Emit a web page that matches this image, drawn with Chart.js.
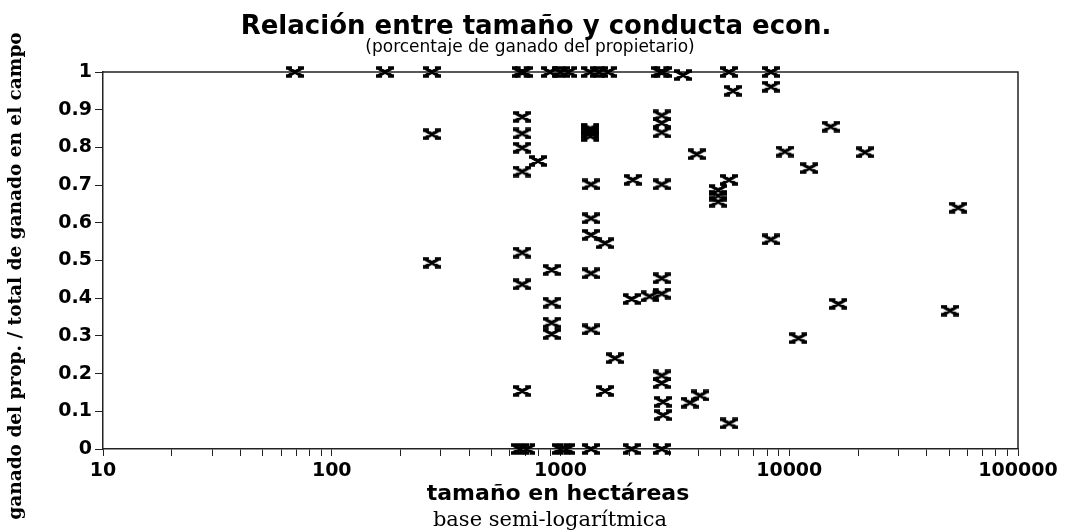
<!DOCTYPE html>
<html>
<head>
<meta charset="utf-8">
<script src="https://cdn.jsdelivr.net/npm/chart.js@4.4.1/dist/chart.umd.min.js"></script>
<style>
  html, body { margin: 0; padding: 0; background: #fff; }
</style>
</head>
<body>
<canvas id="myChart" width="1073" height="532"></canvas>
<script>
// tamaño del campo (hectáreas) y proporción de ganado del propietario
const tamano = [
  69, 171, 274, 670, 690, 900, 1000, 1080, 1350, 1470, 1610, 2730, 2810, 5450, 8320,
  3430, 5675, 8320,
  680, 680, 680, 680, 797, 274, 274,
  680, 680, 680, 665, 710,
  1350, 1350, 1350, 1350,
  2770, 2770, 2770,
  3940, 1360, 2070, 2770, 5450,
  4890, 4890, 4890,
  1360, 1360, 1566,
  914, 1360, 914, 914, 914, 1360,
  1730, 1566,
  2046, 2450, 2770, 2770,
  2770, 2770, 2806, 2806,
  3683, 4070, 5460,
  1000, 1060, 1360, 2046, 2770,
  15170, 9570, 21430, 12250, 54800, 8320, 16400, 50470, 10970
];
const proporcion = [
  1, 1, 1, 1, 1, 1, 1, 1, 1, 1, 1, 1, 1, 1, 1,
  0.992, 0.950, 0.961,
  0.881, 0.837, 0.799, 0.736, 0.764, 0.835, 0.494,
  0.521, 0.437, 0.154, 0, 0,
  0.850, 0.845, 0.838, 0.830,
  0.885, 0.865, 0.840,
  0.782, 0.702, 0.714, 0.702, 0.714,
  0.687, 0.672, 0.656,
  0.612, 0.568, 0.546,
  0.475, 0.466, 0.388, 0.335, 0.305, 0.317,
  0.241, 0.154,
  0.398, 0.405, 0.412, 0.453,
  0.195, 0.175, 0.125, 0.090,
  0.123, 0.142, 0.068,
  0, 0, 0, 0, 0,
  0.855, 0.789, 0.787, 0.745, 0.640, 0.556, 0.385, 0.367, 0.294
];
const etiquetasX = [10, 100, 1000, 10000, 100000];

// marca tipo "X" del gráfico original
function marca() {
  const c = document.createElement('canvas');
  c.width = 18;
  c.height = 12;
  const g = c.getContext('2d');
  g.strokeStyle = '#000';
  g.lineWidth = 3.5;
  g.beginPath();
  g.moveTo(2, 2); g.lineTo(16, 10);
  g.moveTo(16, 2); g.lineTo(2, 10);
  g.moveTo(0, 2); g.lineTo(6, 2);
  g.moveTo(12, 2); g.lineTo(18, 2);
  g.moveTo(0, 10); g.lineTo(6, 10);
  g.moveTo(12, 10); g.lineTo(18, 10);
  g.stroke();
  return c;
}

// marco superior y derecho
const marco = {
  id: 'marco',
  beforeDatasetsDraw(chart) {
    const { ctx, chartArea } = chart;
    ctx.save();
    ctx.strokeStyle = '#222';
    ctx.lineWidth = 1.5;
    ctx.beginPath();
    ctx.moveTo(chartArea.left, chartArea.top);
    ctx.lineTo(chartArea.right, chartArea.top);
    ctx.lineTo(chartArea.right, chartArea.bottom);
    ctx.stroke();
    ctx.restore();
  }
};

// título y títulos de los ejes
const rotulos = {
  id: 'rotulos',
  afterDraw(chart) {
    const ctx = chart.ctx;
    ctx.save();
    ctx.fillStyle = '#000';
    ctx.textAlign = 'center';
    ctx.textBaseline = 'middle';
    ctx.font = 'bold 26px "DejaVu Sans"';
    ctx.fillText('Relación entre tamaño y conducta econ.', 536, 27);
    ctx.font = '17px "DejaVu Sans"';
    ctx.fillText('(porcentaje de ganado del propietario)', 530, 48);
    ctx.font = 'bold 22px "DejaVu Sans"';
    ctx.fillText('tamaño en hectáreas', 558, 494);
    ctx.font = '21px "DejaVu Serif"';
    ctx.fillText('base semi-logarítmica', 550, 521);
    ctx.translate(16, 276);
    ctx.rotate(-Math.PI / 2);
    ctx.font = 'bold 18.5px "DejaVu Serif"';
    ctx.fillText('ganado del prop. / total de ganado en el campo', 0, 0);
    ctx.restore();
  }
};

const ctx = document.getElementById('myChart').getContext('2d');
new Chart(ctx, {
  type: 'scatter',
  data: {
    datasets: [{
      data: tamano.map((t, i) => ({ x: t, y: proporcion[i] })),
      pointStyle: marca(),
      pointRadius: 9,
      clip: false
    }]
  },
  options: {
    responsive: false,
    animation: false,
    layout: { padding: { top: 72, right: 55, bottom: 0, left: 0 } },
    plugins: {
      legend: { display: false },
      tooltip: { enabled: false }
    },
    scales: {
      x: {
        type: 'logarithmic',
        min: 10,
        max: 100000,
        afterFit(scale) { scale.height = 83; },
        afterBuildTicks(scale) {
          const t = [];
          for (let p = 10; p < 100000; p *= 10) {
            for (let d = 1; d < 10; d++) t.push({ value: d * p });
          }
          t.push({ value: 100000 });
          scale.ticks = t;
        },
        border: { display: true, color: '#222', width: 1.5 },
        grid: { drawOnChartArea: false, color: '#222', tickLength: 7 },
        ticks: {
          autoSkip: false,
          maxRotation: 0,
          padding: 4,
          color: '#000',
          font: { family: 'DejaVu Sans', size: 19, weight: 'bold' },
          callback: v => etiquetasX.includes(v) ? String(v) : ''
        }
      },
      y: {
        min: 0,
        max: 1,
        afterFit(scale) { scale.width = 103; },
        border: { display: true, color: '#222', width: 1.5 },
        grid: { drawOnChartArea: false, color: '#222', tickLength: 8 },
        ticks: {
          stepSize: 0.1,
          padding: 3,
          color: '#000',
          font: { family: 'DejaVu Sans', size: 19, weight: 'bold' },
          callback: v => String(Math.round(v * 10) / 10)
        }
      }
    }
  },
  plugins: [marco, rotulos]
});
</script>
</body>
</html>
